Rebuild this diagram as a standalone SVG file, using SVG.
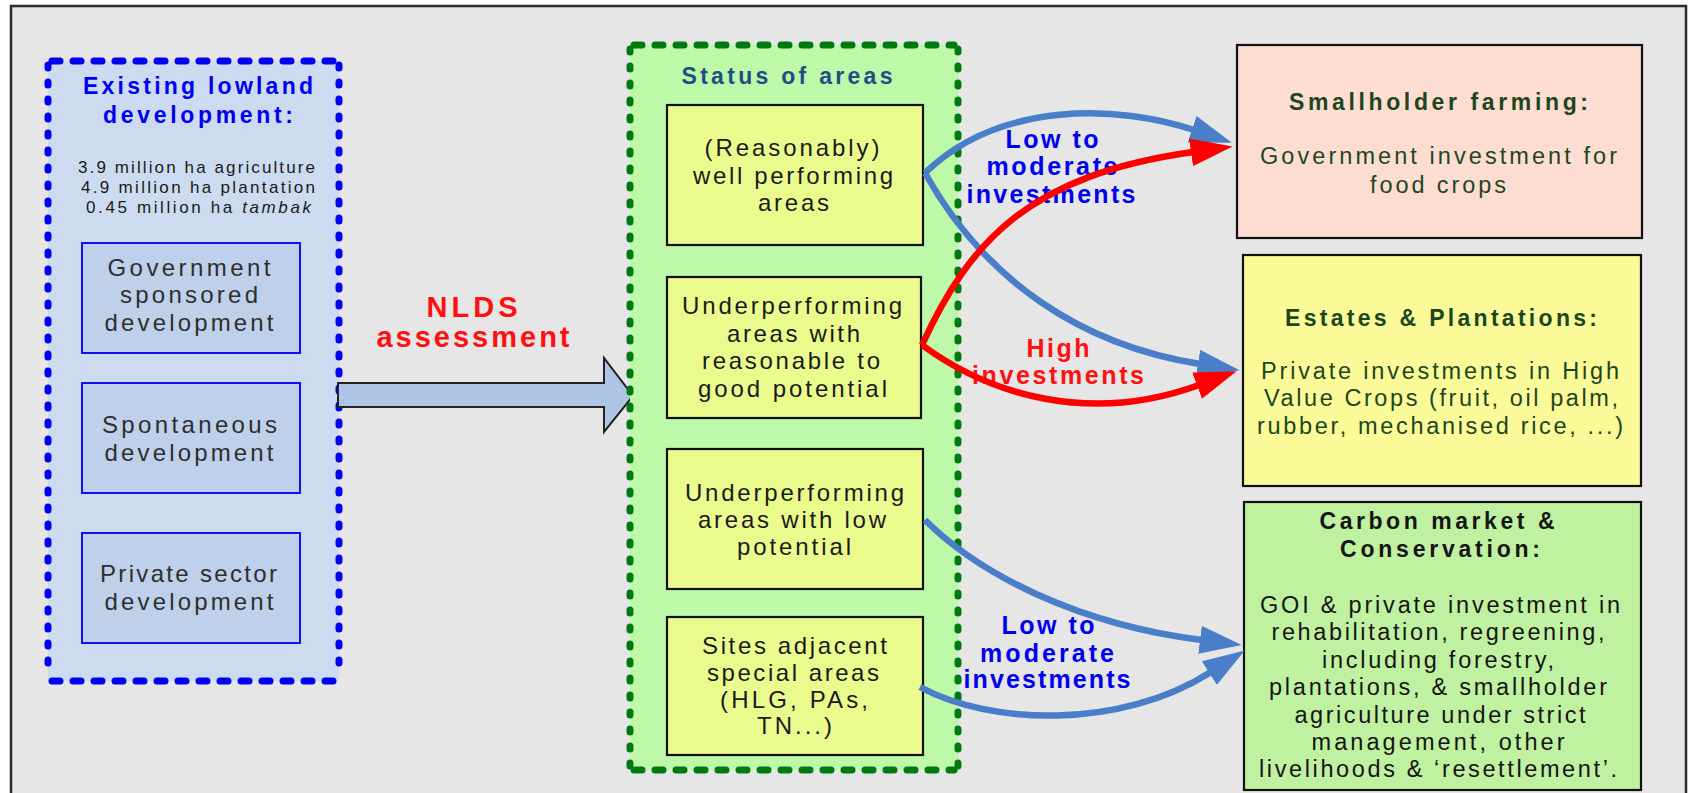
<svg xmlns="http://www.w3.org/2000/svg" width="1688" height="793" viewBox="0 0 1688 793">
  <defs>
    <style>
      text { font-family: "Liberation Sans", Arial, sans-serif; text-anchor: middle; }
      .frame { fill: #e6e6e6; stroke: #2b2b2b; stroke-width: 2.5; }
      .cont-blue { fill: #cddbf0; }
      .cont-green { fill: #bdf9a8; }
      .edge-h { fill: none; stroke-width: 7; stroke-linecap: round; stroke-dasharray: 8 13; }
      .edge-v { fill: none; stroke-width: 7; stroke-linecap: round; stroke-dasharray: 3 14; }
      .blue-edge { stroke: #0000f0; }
      .green-edge { stroke: #007a10; }
      .src-box { fill: #bfd0ea; stroke: #1010f0; stroke-width: 2; }
      .area-box { fill: #ebfa8c; stroke: #111; stroke-width: 2.2; }
      .out-box { stroke: #111; stroke-width: 2.2; }
      .ttl-blue { font-size: 23px; font-weight: bold; fill: #0000f0; }
      .stat { font-size: 17px; fill: #1a1a1a; }
      .src { font-size: 24px; fill: #2e2e2e; }
      .nlds { font-size: 29px; font-weight: bold; fill: #ff1010; }
      .status { font-size: 23px; font-weight: bold; fill: #1f4d86; }
      .area { font-size: 24px; fill: #1a1a1a; }
      .out-ttl { font-size: 23px; font-weight: bold; fill: #1d461d; }
      .out-txt { font-size: 23.5px; fill: #1d461d; }
      .c-ttl { font-size: 23px; font-weight: bold; fill: #151515; }
      .c-txt { font-size: 23.5px; fill: #151515; }
      .lbl-blue { font-size: 25px; font-weight: bold; fill: #0000f0; }
      .lbl-red { font-size: 25px; font-weight: bold; fill: #ff1010; }
      .link { fill: none; stroke-width: 6.5; }
      .link-blue { stroke: #4a7ec8; marker-end: url(#head-blue); }
      .link-red { stroke: #ff0000; marker-end: url(#head-red); }
    </style>
    <marker id="head-blue" viewBox="0 0 42 28" markerWidth="42" markerHeight="28" refX="2" refY="14" orient="auto" markerUnits="userSpaceOnUse">
      <path d="M0,0 L42,14 L0,28 Z" fill="#4a7ec8"/>
    </marker>
    <marker id="head-red" viewBox="0 0 42 28" markerWidth="42" markerHeight="28" refX="2" refY="14" orient="auto" markerUnits="userSpaceOnUse">
      <path d="M0,0 L42,14 L0,28 Z" fill="#ff0000"/>
    </marker>
  </defs>

  <rect x="0" y="0" width="1688" height="793" fill="#ffffff"/>
  <rect class="frame" x="11" y="6" width="1675" height="800"/>

  <!-- Existing lowland development -->
  <g id="existing-lowland">
    <rect class="cont-blue" x="48" y="61" width="291" height="620"/>
    <path class="edge-h blue-edge" d="M52,61 H335 M52,681 H335"/>
    <path class="edge-v blue-edge" d="M48,65 V677 M339,65 V677"/>
    <text class="ttl-blue" x="198" y="94" textLength="230" lengthAdjust="spacing">Existing lowland</text>
    <text class="ttl-blue" x="198" y="123" textLength="190" lengthAdjust="spacing">development:</text>
    <text class="stat" x="196.5" y="173" textLength="237" lengthAdjust="spacing">3.9 million ha agriculture</text>
    <text class="stat" x="198" y="193" textLength="234" lengthAdjust="spacing">4.9 million ha plantation</text>
    <text class="stat" x="198.5" y="213" textLength="225" lengthAdjust="spacing">0.45 million ha <tspan font-style="italic">tambak</tspan></text>
  </g>

  <g id="government-sponsored">
    <rect class="src-box" x="82" y="243" width="218" height="110"/>
    <text class="src" x="189" y="276" textLength="163" lengthAdjust="spacing">Government</text>
    <text class="src" x="189" y="303" textLength="138" lengthAdjust="spacing">sponsored</text>
    <text class="src" x="189" y="331" textLength="169" lengthAdjust="spacing">development</text>
  </g>

  <g id="spontaneous">
    <rect class="src-box" x="82" y="383" width="218" height="110"/>
    <text class="src" x="189.5" y="433" textLength="175" lengthAdjust="spacing">Spontaneous</text>
    <text class="src" x="189" y="461" textLength="169" lengthAdjust="spacing">development</text>
  </g>

  <g id="private-sector">
    <rect class="src-box" x="82" y="533" width="218" height="110"/>
    <text class="src" x="188.5" y="582" textLength="177" lengthAdjust="spacing">Private sector</text>
    <text class="src" x="189" y="610" textLength="169" lengthAdjust="spacing">development</text>
  </g>

  <!-- NLDS assessment block arrow -->
  <g id="nlds-assessment">
    <path d="M338,383 H604 V358 L633,396 L604,432 V407 H338 Z" fill="#afc5e6" stroke="#222" stroke-width="2"/>
    <text class="nlds" x="472" y="317" textLength="91" lengthAdjust="spacing">NLDS</text>
    <text class="nlds" x="473" y="347" textLength="193" lengthAdjust="spacing">assessment</text>
  </g>

  <!-- Status of areas -->
  <g id="status-of-areas">
    <rect class="cont-green" x="630" y="45" width="328" height="725"/>
    <path class="edge-h green-edge" d="M634,45 H954 M634,770 H954"/>
    <path class="edge-v green-edge" d="M630,49 V766 M958,49 V766"/>
    <text class="status" x="787" y="84" textLength="211" lengthAdjust="spacing">Status of areas</text>
  </g>

  <g id="well-performing">
    <rect class="area-box" x="667" y="105" width="256" height="140"/>
    <text class="area" x="792" y="156" textLength="175" lengthAdjust="spacing">(Reasonably)</text>
    <text class="area" x="793" y="184" textLength="200" lengthAdjust="spacing">well performing</text>
    <text class="area" x="793.5" y="211" textLength="71" lengthAdjust="spacing">areas</text>
  </g>

  <g id="underperforming-good">
    <rect class="area-box" x="667" y="277" width="254" height="141"/>
    <text class="area" x="792" y="314" textLength="220" lengthAdjust="spacing">Underperforming</text>
    <text class="area" x="793.5" y="342" textLength="133" lengthAdjust="spacing">areas with</text>
    <text class="area" x="791" y="369" textLength="178" lengthAdjust="spacing">reasonable to</text>
    <text class="area" x="792.5" y="397" textLength="189" lengthAdjust="spacing">good potential</text>
  </g>

  <g id="underperforming-low">
    <rect class="area-box" x="667" y="449" width="256" height="140"/>
    <text class="area" x="794.5" y="501" textLength="219" lengthAdjust="spacing">Underperforming</text>
    <text class="area" x="792" y="528" textLength="188" lengthAdjust="spacing">areas with low</text>
    <text class="area" x="794" y="555" textLength="114" lengthAdjust="spacing">potential</text>
  </g>

  <g id="sites-adjacent">
    <rect class="area-box" x="667" y="617" width="256" height="138"/>
    <text class="area" x="794.5" y="654" textLength="185" lengthAdjust="spacing">Sites adjacent</text>
    <text class="area" x="793" y="681" textLength="172" lengthAdjust="spacing">special areas</text>
    <text class="area" x="794" y="708" textLength="148" lengthAdjust="spacing">(HLG, PAs,</text>
    <text class="area" x="794.5" y="734" textLength="75" lengthAdjust="spacing">TN...)</text>
  </g>

  <!-- Outcomes -->
  <g id="smallholder-farming">
    <rect class="out-box" x="1237" y="45" width="405" height="193" fill="#fddcd2"/>
    <text class="out-ttl" x="1438.5" y="110" textLength="299" lengthAdjust="spacing">Smallholder farming:</text>
    <text class="out-txt" x="1438.5" y="164" textLength="357" lengthAdjust="spacing">Government investment for</text>
    <text class="out-txt" x="1438" y="193" textLength="136" lengthAdjust="spacing">food crops</text>
  </g>

  <g id="estates-plantations">
    <rect class="out-box" x="1243" y="255" width="398" height="231" fill="#fafa98"/>
    <text class="out-ttl" x="1441" y="326" textLength="312" lengthAdjust="spacing">Estates &amp; Plantations:</text>
    <text class="out-txt" x="1440" y="379" textLength="358" lengthAdjust="spacing">Private investments in High</text>
    <text class="out-txt" x="1441" y="406" textLength="354" lengthAdjust="spacing">Value Crops (fruit, oil palm,</text>
    <text class="out-txt" x="1440" y="434" textLength="366" lengthAdjust="spacing">rubber, mechanised rice, ...)</text>
  </g>

  <g id="carbon-conservation">
    <rect class="out-box" x="1244" y="502" width="397" height="288" fill="#bff1a0"/>
    <text class="c-ttl" x="1437" y="529" textLength="235" lengthAdjust="spacing">Carbon market &amp;</text>
    <text class="c-ttl" x="1440" y="557" textLength="200" lengthAdjust="spacing">Conservation:</text>
    <text class="c-txt" x="1440" y="613" textLength="360" lengthAdjust="spacing">GOI &amp; private investment in</text>
    <text class="c-txt" x="1438" y="640" textLength="333" lengthAdjust="spacing">rehabilitation, regreening,</text>
    <text class="c-txt" x="1438" y="668" textLength="232" lengthAdjust="spacing">including forestry,</text>
    <text class="c-txt" x="1438" y="695" textLength="338" lengthAdjust="spacing">plantations, &amp; smallholder</text>
    <text class="c-txt" x="1440" y="723" textLength="291" lengthAdjust="spacing">agriculture under strict</text>
    <text class="c-txt" x="1438" y="750" textLength="253" lengthAdjust="spacing">management, other</text>
    <text class="c-txt" x="1438" y="777" textLength="358" lengthAdjust="spacing">livelihoods &amp; ‘resettlement’.</text>
  </g>

  <!-- Investment labels -->
  <g id="labels">
    <text class="lbl-blue" x="1052" y="148" textLength="93" lengthAdjust="spacing">Low to</text>
    <text class="lbl-blue" x="1052" y="175" textLength="131" lengthAdjust="spacing">moderate</text>
    <text class="lbl-blue" x="1051" y="203" textLength="169" lengthAdjust="spacing">investments</text>
    <text class="lbl-red" x="1058" y="357" textLength="63" lengthAdjust="spacing">High</text>
    <text class="lbl-red" x="1058" y="384" textLength="172" lengthAdjust="spacing">investments</text>
    <text class="lbl-blue" x="1048" y="634" textLength="93" lengthAdjust="spacing">Low to</text>
    <text class="lbl-blue" x="1047" y="662" textLength="134" lengthAdjust="spacing">moderate</text>
    <text class="lbl-blue" x="1047" y="688" textLength="167" lengthAdjust="spacing">investments</text>
  </g>

  <!-- Connectors -->
  <g id="connectors">
    <path class="link link-blue" d="M925,173 C1000,100 1120,105 1194,130"/>
    <path class="link link-blue" d="M925,173 C985,280 1080,345 1200,364"/>
    <path class="link link-red" d="M922,345 C970,240 1030,175 1193,152"/>
    <path class="link link-red" d="M922,345 C990,395 1090,425 1199,385"/>
    <path class="link link-blue" d="M925,520 C980,575 1080,625 1202,640"/>
    <path class="link link-blue" d="M920,687 C990,725 1120,730 1211,672"/>
  </g>
</svg>
